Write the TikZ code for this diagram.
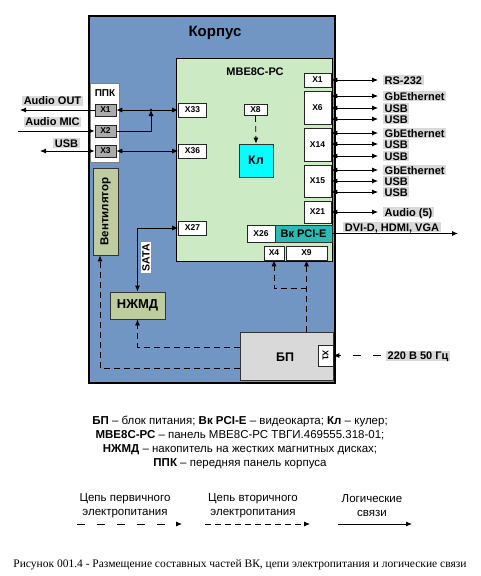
\documentclass[tikz,border=0pt]{standalone}
\usepackage{fontspec}
\setmainfont{Liberation Sans}
\newfontfamily\captionfont{Liberation Serif}
\usepackage{graphicx}
\usetikzlibrary{arrows.meta, positioning, calc}
\definecolor{KorpusBlue}{RGB}{113,150,196}
\definecolor{BoardGreen}{RGB}{204,235,197}
\definecolor{FanOlive}{RGB}{190,204,160}
\definecolor{CoolerCyan}{RGB}{0,255,255}
\definecolor{VkTeal}{RGB}{43,186,180}
\definecolor{BpGray}{RGB}{217,217,217}
\definecolor{LabelGray}{RGB}{217,217,217}
\definecolor{PortGray}{RGB}{170,170,170}

\tikzset{
	unit/.style={draw=black!80, inner sep=0pt, line width=0.8pt},
	port/.style={draw=black!85, fill=white, inner sep=0pt, line width=0.7pt,
		font=\bfseries\fontsize{8.5}{9}\selectfont},
	ppkport/.style={port, fill=PortGray, minimum width=21pt, minimum height=12pt},
	tag/.style={fill=LabelGray, inner xsep=1.5pt, inner ysep=1pt, text height=8pt, text depth=0pt,
		font=\bfseries\fontsize{11}{12}\selectfont},
	legendtext/.style={align=center, font=\fontsize{11.5}{14}\selectfont},
	logic/.style={line width=0.8pt},
	secpower/.style={line width=0.8pt, dash pattern=on 6pt off 4pt},
	primpower/.style={line width=0.8pt, dash pattern=on 8pt off 12pt},
}

\begin{document}
\begin{tikzpicture}[x=1pt, y=-1pt, >={Latex[length=6pt,width=5pt]}]
\useasboundingbox (0,0) rectangle (480,576);

% корпус и плата
\node[draw=black, line width=1.5pt, fill=KorpusBlue, inner sep=0pt,
	minimum width=246pt, minimum height=367pt] (korpus) at (212,199.5) {};
\node[font=\bfseries\fontsize{15}{18}\selectfont] (korpusT) at (215,33) {Корпус};
\node[unit, draw=black, fill=BoardGreen, minimum width=156pt, minimum height=203pt] (mbe) at (254,159.5) {};
\node[font=\bfseries\fontsize{11}{13}\selectfont] (mbeT) at (255,72) {МВЕ8С-РС};

% ППК
\node[draw=black!50, line width=1pt, fill=white, inner sep=0pt,
	minimum width=29pt, minimum height=79pt] (ppk) at (104.5,122.5) {};
\node[font=\bfseries\fontsize{10}{12}\selectfont] (ppkT) at (105,93) {ППК};
\node[ppkport] (p1) at (105.5,110) {Х1};
\node[ppkport] (p2) at (105.5,131) {Х2};
\node[ppkport] (p3) at (105.5,151) {Х3};

% разъемы платы
\node[port, minimum width=28pt, minimum height=14pt] (x33) at (192.5,110) {Х33};
\node[port, minimum width=28pt, minimum height=14pt] (x36) at (192.5,151) {Х36};
\node[port, minimum width=28pt, minimum height=14pt] (x27) at (192.5,228) {Х27};
\node[port, minimum width=23pt, minimum height=11pt] (x8) at (255.5,110) {Х8};
\node[unit, fill=CoolerCyan, minimum width=34pt, minimum height=33pt,
	font=\bfseries\fontsize{12.5}{14}\selectfont] (kl) at (256,160.5) {Кл};
\node[port, minimum width=27pt, minimum height=14pt] (r1) at (317.5,80) {Х1};
\node[port, minimum width=27pt, minimum height=33pt] (r6) at (317.5,107.5) {Х6};
\node[port, minimum width=27pt, minimum height=33pt] (r14) at (317.5,144.5) {Х14};
\node[port, minimum width=27pt, minimum height=32pt] (r15) at (317.5,181) {Х15};
\node[port, minimum width=27pt, minimum height=22pt] (r21) at (317.5,212) {Х21};
\node[port, minimum width=28pt, minimum height=17pt] (x26) at (261,233.5) {Х26};
\node[unit, fill=VkTeal, minimum width=57pt, minimum height=17pt,
	font=\bfseries\fontsize{11}{12}\selectfont] (vk) at (303.5,233.5) {Вк PCI-E};
\node[port, minimum width=20pt, minimum height=14pt] (x4) at (274,253) {Х4};
\node[port, minimum width=41pt, minimum height=14pt] (x9) at (306.5,253) {Х9};

% вентилятор, НЖМД, БП
\node[unit, fill=FanOlive, minimum width=25pt, minimum height=87pt,
	font=\bfseries\fontsize{11.5}{13}\selectfont] (vent) at (105.5,211.5) {\rotatebox{90}{Вентилятор}};
\node[unit, fill=FanOlive, minimum width=55pt, minimum height=27pt,
	font=\bfseries\fontsize{13}{15}\selectfont] (hdd) at (137.5,305.5) {НЖМД};
\node[unit, fill=BpGray, minimum width=93pt, minimum height=48pt] (bp) at (286.5,356) {};
\node[font=\bfseries\fontsize{12.5}{14}\selectfont] (bpT) at (285,357) {БП};
\node[port, minimum width=15pt, minimum height=21pt] (bpx) at (325.5,355.5) {\rotatebox{-90}{Х1}};

% внешние связи слева
\node[tag] (tout) at (52.5,100.5) {Audio OUT};
\node[tag] (tmic) at (52.5,121.5) {Audio MIC};
\node[tag] (tusb) at (66.5,143) {USB};
\coordinate (aout) at (20,110);
\coordinate (amic) at (18,131);
\coordinate (ausb) at (40,151);
\draw[logic,->] (p1.west) -- (aout);
\draw[logic,->] (amic) -- (p2.west);
\draw[logic,<->] (ausb) -- (p3.west);

% ППК -- плата
\coordinate (jn) at (151,110);
\draw[logic,<->] (p1.east) -- (x33.west);
\draw[logic,->] (p2.east) -| (jn);
\fill (jn) circle (1.3pt);
\draw[logic,<->] (p3.east) -- (x36.west);

% внешние связи справа
\foreach \pt/\yy/\txt in {r1/80/RS-232, r6/96/GbEthernet, r6/108/USB, r6/119/USB,
	r14/133/GbEthernet, r14/144/USB, r14/156/USB, r15/170/GbEthernet,
	r15/181/USB, r15/192/USB, r21/212/Audio (5)}{
	\node[tag, anchor=west] (t\yy) at (383,\yy) {\txt};
	\draw[logic,<->] (\pt.east |- t\yy) -- ([xshift=-5pt]t\yy.west);
}
\coordinate (dvi) at (458,233.5);
\draw[logic,->] (vk.east) -- (dvi);
\node[tag] (tdvi) at (392,227) {DVI-D, HDMI, VGA};

% SATA
\draw[logic,<->] (x27.west) -| (hdd.north);
\node[fill=white, inner sep=1.5pt, font=\bfseries\fontsize{10.5}{12}\selectfont] (sata) at (146,257.5) {\rotatebox{90}{SATA}};

% электропитание
\draw[secpower,->] (x8.south) -- (kl.north);
\coordinate (br) at (306.5,288);
\draw[secpower,->] (bp.north -| x9.south) -- (x9.south);
\draw[secpower,->] (br) -| (x4.south);
\draw[secpower,->] ([yshift=9pt]bp.west) -| (hdd.south);
\draw[secpower,->] ([yshift=-12pt]bp.west) -| ([xshift=-5.5pt]vent.south);
\node[tag] (t220) at (418,355.5) {220 В 50 Гц};
\draw[primpower,->] ([xshift=-5pt]t220.west) -- (bpx.east);

% пояснения
\node[align=center, font=\fontsize{11.5}{14.3}\selectfont] (legend) at (240,442.5)
	{\textbf{БП} – блок питания; \textbf{Вк PCI-E} – видеокарта; \textbf{Кл} – кулер;\\
	\textbf{МВЕ8С-РС} – панель МВЕ8С-РС ТВГИ.469555.318-01;\\
	\textbf{НЖМД} – накопитель на жестких магнитных дисках;\\
	\textbf{ППК} – передняя панель корпуса};

\node[legendtext] (lg1) at (125,506) {Цепь первичного\\электропитания};
\node[legendtext] (lg2) at (253,506) {Цепь вторичного\\электропитания};
\node[legendtext] (lg3) at (372,506) {Логические\\связи};
\coordinate (l1a) at (77,524); \coordinate (l1b) at (182,524);
\coordinate (l2a) at (205,524); \coordinate (l2b) at (310,524);
\coordinate (l3a) at (338,524); \coordinate (l3b) at (412,524);
\draw[primpower,->] (l1a) -- (l1b);
\draw[secpower,->] (l2a) -- (l2b);
\draw[logic,->] (l3a) -- (l3b);

\node[font=\captionfont\fontsize{11.5}{13}\selectfont] (cap) at (240,565)
	{Рисунок 001.4 - Размещение составных частей ВК, цепи электропитания и логические связи};
\end{tikzpicture}
\end{document}
